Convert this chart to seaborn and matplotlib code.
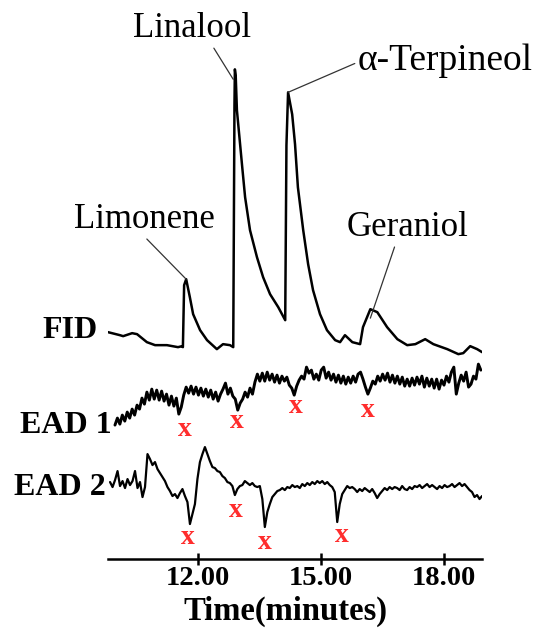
# gc_ead_plot.py

import numpy as np
import pandas as pd
import matplotlib
matplotlib.use("Agg")
import matplotlib.pyplot as plt
import seaborn as sns

# FID trace: retention time (min) and detector response above baseline
fid_time = [9.80, 10.09, 10.17, 10.39, 10.51, 10.75, 10.95, 11.24, 11.51, 11.61,
            11.63, 11.66, 11.71, 11.80, 11.88, 12.05, 12.22, 12.46, 12.61, 12.78,
            12.86, 12.89, 12.90, 12.92, 12.95, 13.08, 13.15, 13.27, 13.44, 13.59,
            13.76, 13.96, 14.13, 14.16, 14.20, 14.30, 14.37, 14.44, 14.57, 14.69,
            14.81, 14.98, 15.15, 15.35, 15.47, 15.59, 15.77, 15.96, 16.03, 16.21,
            16.38, 16.62, 16.87, 17.11, 17.31, 17.55, 17.75, 18.09, 18.36, 18.48,
            18.65, 18.82, 18.94]
fid_signal = [13, 10, 9, 12, 11, 3, 0, 0, -2, -1,
              -2, 60, 66, 48, 31, 15, 5, -4, 1, 0,
              -2, 240, 276, 270, 235, 178, 148, 115, 88, 68,
              51, 38, 25, 200, 253, 231, 201, 158, 115, 81,
              55, 31, 15, 5, 3, 10, 3, 1, 18, 36,
              33, 18, 6, 0, 1, 6, 1, -4, -9, -8,
              -1, -4, -7]

# EAD 1 antenna response, one reading every 0.060 min from 9.97 min
ead1_start, ead1_step = 9.97, 0.060
ead1_signal = [-28, -21, -27, -18, -24, -15, -21, -12, -18, -8,
               -12, -1, -7, 5, -3, 8, -2, 7, -3, 6,
               -4, 3, -8, 1, -9, -1, -17, -10, 2, 10,
               4, 11, 3, 10, 2, 9, 1, 8, 0, 7,
               -2, 5, -4, 3, 8, 14, 3, 9, 1, -2,
               -13, -6, -2, 5, 0, 9, 3, 15, 23, 16,
               24, 16, 25, 17, 23, 15, 22, 14, 21, 16,
               20, 12, 9, 2, 11, 17, 21, 18, 30, 24,
               27, 18, 23, 17, 27, 30, 19, 25, 17, 23,
               15, 22, 14, 21, 13, 20, 14, 21, 15, 23,
               25, 18, 10, 3, 9, 16, 13, 21, 16, 23,
               17, 24, 15, 22, 14, 21, 13, 20, 11, 18,
               11, 19, 12, 20, 13, 21, 10, 19, 11, 18,
               9, 18, 8, 17, 12, 21, 15, 25, 30, 3,
               14, 22, 16, 25, 10, 13, 21, 18, 33, 27]

# EAD 2 antenna response, one reading every 0.061 min from 9.85 min
ead2_start, ead2_step = 9.85, 0.061
ead2_signal = [2, -3, 4, 13, -2, 3, -4, 5, -1, 3,
               13, -4, 2, -13, -3, 30, 25, 19, 22, 15,
               11, 7, 3, -3, -7, -12, -10, -14, -9, -5,
               -12, -18, -40, -30, -20, 5, 22, 30, 37, 30,
               23, 17, 16, 13, 12, 8, 6, 2, 1, -2,
               -11, -5, -2, -1, 3, 1, -1, 1, -2, -3,
               -2, -15, -43, -28, -20, -13, -10, -7, -6, -4,
               -6, -3, -4, -1, -3, -2, -4, 0, -2, 1,
               -1, 2, 0, 3, 1, 3, 0, 2, -1, -3,
               -8, -38, -20, -10, -6, -2, -4, -3, -5, -8,
               -5, -7, -4, -6, -8, -5, -9, -14, -10, -7,
               -4, -6, -3, -5, -3, -4, -6, -2, -5, -6,
               -3, -5, -2, -3, -1, -4, -2, 0, -3, -1,
               -3, -5, -2, -4, -1, -3, -2, 0, -3, -1,
               1, -2, 0, -3, -6, -8, -13, -11, -15, -12]

# compounds labelled on the FID trace
peak_names = ["Limonene", "Linalool", "α-Terpineol", "Geraniol"]
peak_times = [11.71, 12.90, 14.20, 16.21]

# antennal responses marked with x
ead1_hits = [11.68, 12.95, 14.40, 16.16]
ead1_hit_levels = [-32, -24, -9, -13]
ead2_hits = [11.76, 12.93, 13.64, 15.52]
ead2_hit_levels = [-53, -26, -58, -51]

x_ticks = [12.0, 15.0, 18.0]

# vertical stacking of the three traces
offsets = {"FID": 214, "EAD 1": 162, "EAD 2": 75}

sns.set_style("white")
plt.rcParams["font.family"] = ["Liberation Serif", "DejaVu Serif"]
plt.rcParams["text.color"] = "black"
plt.rcParams["xtick.color"] = "black"
plt.rcParams["axes.labelcolor"] = "black"

fid = pd.DataFrame({"time": fid_time, "y": np.array(fid_signal) + offsets["FID"]})
ead1 = pd.DataFrame({"time": ead1_start + ead1_step * np.arange(len(ead1_signal)),
                     "y": np.array(ead1_signal) + offsets["EAD 1"]})
ead2 = pd.DataFrame({"time": ead2_start + ead2_step * np.arange(len(ead2_signal)),
                     "y": np.array(ead2_signal) + offsets["EAD 2"]})

fig = plt.figure(figsize=(5.55, 6.32), dpi=100)
ax = fig.add_axes([0.1946, 0.1155, 0.674, 0.857])

sns.lineplot(data=fid, x="time", y="y", estimator=None, sort=False, color="black", lw=1.8, ax=ax)
sns.lineplot(data=ead1, x="time", y="y", estimator=None, sort=False, color="black", lw=2.1, ax=ax)
sns.lineplot(data=ead2, x="time", y="y", estimator=None, sort=False, color="black", lw=1.6, ax=ax)

ax.set_xlim(9.80, 18.94)
ax.set_ylim(0, 542)

# trace names on the left
ax.text(9.56, 229, "FID", ha="right", va="center", fontsize=23, fontweight="bold", clip_on=False)
ax.text(9.90, 134, "EAD 1", ha="right", va="center", fontsize=23, fontweight="bold", clip_on=False)
ax.text(9.75, 72, "EAD 2", ha="right", va="center", fontsize=23, fontweight="bold", clip_on=False)

# peak labels with leader lines
label_pos = [(10.70, 340), (11.85, 531), (15.91, 499), (17.11, 332)]
label_ha = ["center", "center", "left", "center"]
label_size = [25, 25, 27, 25]
relpos = [(0.48, 0.05), (0.66, 0.05), (0.0, 0.45), (0.41, 0.05)]
end_gap = [0, 10, 0, 9]
for name, t, pos, ha, fs, rp, gap in zip(peak_names, peak_times, label_pos, label_ha,
                                         label_size, relpos, end_gap):
    top = np.interp(t, fid_time, fid_signal) + offsets["FID"] - gap
    ax.annotate(name, xy=(t - (0.04 if gap == 10 else 0), top), xytext=pos,
                ha=ha, va="center", fontsize=fs, annotation_clip=False,
                arrowprops=dict(arrowstyle="-", color="#333333", lw=0.9,
                                relpos=rp, shrinkA=0, shrinkB=0))

for t, lev in zip(ead1_hits, ead1_hit_levels):
    ax.text(t, lev + offsets["EAD 1"], "x", color="#ff2d2d", fontsize=20,
            fontweight="bold", ha="center", va="center")
for t, lev in zip(ead2_hits, ead2_hit_levels):
    ax.text(t, lev + offsets["EAD 2"], "x", color="#ff2d2d", fontsize=20,
            fontweight="bold", ha="center", va="center")

sns.despine(ax=ax, left=True)
ax.spines["bottom"].set_linewidth(1.8)
ax.spines["bottom"].set_color("black")
ax.set_yticks([])
ax.set_ylabel("")
ax.set_xticks(x_ticks)
ax.set_xticklabels([f"{t:.2f}" for t in x_ticks], fontsize=20.5, fontweight="bold")
ax.tick_params(axis="x", direction="inout", length=9, width=1.8, pad=0.5, bottom=True)
ax.set_xlabel("Time(minutes)", fontsize=23.5, fontweight="bold")
ax.xaxis.set_label_coords(0.473, -0.0685)
ax.xaxis.label.set_va("top")

fig.savefig("out.png", dpi=100)
